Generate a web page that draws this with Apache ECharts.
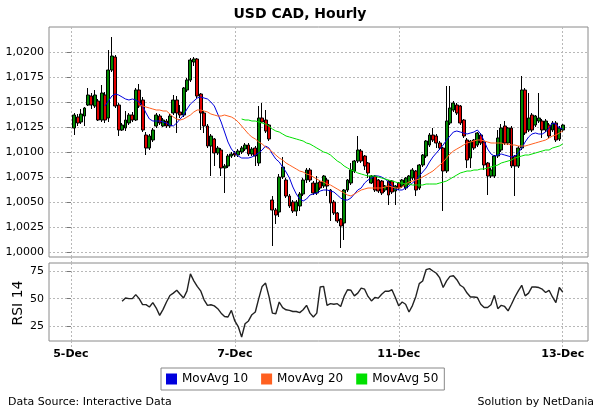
<!DOCTYPE html>
<html><head><meta charset="utf-8">
<script src="https://cdn.jsdelivr.net/npm/echarts@6/dist/echarts.min.js"></script>
<style>html,body{margin:0;padding:0;background:#fff}#c{width:600px;height:411px}</style>
</head><body><div id="c"></div>
<script>
// hourly bars, x = hours since 5-Dec 00:00 (trading hours only)
const firstBar = 1;
const opens = [
1.0124,1.0135,1.0130,1.0136,1.0147,1.0156,1.0146,1.0151,1.0132,1.0157,
1.0134,1.0182,1.0195,1.0147,1.0122,1.0124,1.0129,1.0137,1.0132,1.0162,
1.0152,1.0117,1.0104,1.0112,1.0126,1.0136,1.0126,1.0131,1.0126,1.0139,
1.0152,1.0140,1.0137,1.0162,1.0172,1.0190,1.0193,1.0158,1.0139,1.0126,
1.0106,1.0113,1.0099,1.0102,1.0084,1.0086,1.0096,1.0099,1.0097,1.0100,
1.0103,1.0107,1.0098,1.0104,1.0089,1.0134,1.0132,1.0127,1.0052,1.0042,
1.0040,1.0075,1.0072,1.0056,1.0050,1.0041,1.0046,1.0058,1.0072,1.0082,
1.0069,1.0059,1.0070,1.0066,1.0072,1.0062,1.0050,1.0039,1.0033,1.0029,
1.0062,1.0069,1.0081,1.0091,1.0101,1.0096,1.0089,1.0069,1.0076,1.0072,
1.0071,1.0062,1.0071,1.0071,1.0061,1.0069,1.0066,1.0064,1.0069,1.0074,
1.0081,1.0064,1.0087,1.0096,1.0107,1.0117,1.0116,1.0109,1.0104,1.0081,
1.0129,1.0142,1.0147,1.0146,1.0132,1.0112,1.0094,1.0112,1.0107,1.0117,
1.0110,1.0089,1.0076,1.0076,1.0096,1.0102,1.0126,1.0109,1.0124,1.0096,
1.0086,1.0104,1.0162,1.0122,1.0137,1.0127,1.0131,1.0131,1.0122,1.0127,
1.0122,1.0129,1.0113,1.0122];
const closes = [
1.0137,1.0129,1.0138,1.0144,1.0157,1.0147,1.0157,1.0132,1.0159,1.0132,
1.0182,1.0196,1.0146,1.0122,1.0127,1.0132,1.0137,1.0132,1.0162,1.0146,
1.0122,1.0104,1.0116,1.0122,1.0137,1.0129,1.0132,1.0126,1.0136,1.0152,
1.0139,1.0137,1.0164,1.0172,1.0192,1.0193,1.0156,1.0139,1.0126,1.0106,
1.0116,1.0099,1.0104,1.0084,1.0086,1.0096,1.0098,1.0097,1.0101,1.0104,
1.0107,1.0098,1.0103,1.0096,1.0134,1.0130,1.0121,1.0113,1.0042,1.0037,
1.0075,1.0085,1.0056,1.0046,1.0041,1.0050,1.0058,1.0072,1.0082,1.0072,
1.0059,1.0069,1.0064,1.0076,1.0066,1.0049,1.0039,1.0031,1.0026,1.0062,
1.0072,1.0082,1.0091,1.0102,1.0091,1.0086,1.0079,1.0076,1.0062,1.0061,
1.0059,1.0066,1.0057,1.0060,1.0066,1.0064,1.0072,1.0074,1.0076,1.0082,
1.0062,1.0087,1.0097,1.0111,1.0117,1.0112,1.0109,1.0104,1.0081,1.0131,
1.0144,1.0149,1.0139,1.0129,1.0116,1.0092,1.0111,1.0104,1.0119,1.0109,
1.0087,1.0076,1.0082,1.0096,1.0114,1.0124,1.0109,1.0124,1.0086,1.0086,
1.0104,1.0162,1.0119,1.0134,1.0122,1.0136,1.0134,1.0122,1.0131,1.0116,
1.0129,1.0112,1.0124,1.0127];
const lows = [
1.0117,1.0126,1.0128,1.0126,1.0146,1.0143,1.0144,1.0131,1.0130,1.0129,
1.0130,1.0180,1.0144,1.0116,1.0121,1.0121,1.0127,1.0130,1.0131,1.0144,
1.0120,1.0097,1.0102,1.0110,1.0124,1.0127,1.0125,1.0124,1.0124,1.0137,
1.0119,1.0134,1.0135,1.0160,1.0170,1.0186,1.0154,1.0122,1.0119,1.0104,
1.0076,1.0086,1.0097,1.0076,1.0059,1.0084,1.0094,1.0095,1.0095,1.0098,
1.0101,1.0096,1.0096,1.0086,1.0086,1.0129,1.0119,1.0111,1.0006,1.0028,
1.0035,1.0073,1.0054,1.0044,1.0039,1.0036,1.0041,1.0056,1.0069,1.0070,
1.0057,1.0057,1.0062,1.0064,1.0056,1.0031,1.0037,1.0029,1.0004,1.0012,
1.0060,1.0067,1.0079,1.0089,1.0089,1.0082,1.0074,1.0068,1.0060,1.0059,
1.0057,1.0060,1.0047,1.0058,1.0047,1.0062,1.0064,1.0062,1.0067,1.0072,
1.0056,1.0062,1.0085,1.0094,1.0105,1.0110,1.0104,1.0102,1.0041,1.0079,
1.0127,1.0140,1.0137,1.0127,1.0114,1.0084,1.0084,1.0102,1.0105,1.0107,
1.0082,1.0057,1.0074,1.0074,1.0094,1.0100,1.0107,1.0107,1.0084,1.0056,
1.0084,1.0102,1.0117,1.0120,1.0120,1.0125,1.0129,1.0114,1.0120,1.0114,
1.0120,1.0110,1.0111,1.0120];
const highs = [
1.0139,1.0138,1.0143,1.0145,1.0164,1.0159,1.0162,1.0153,1.0167,1.0160,
1.0202,1.0215,1.0197,1.0149,1.0129,1.0141,1.0139,1.0140,1.0164,1.0168,
1.0155,1.0120,1.0118,1.0124,1.0139,1.0138,1.0134,1.0133,1.0138,1.0157,
1.0156,1.0147,1.0165,1.0174,1.0194,1.0195,1.0194,1.0159,1.0141,1.0128,
1.0118,1.0114,1.0106,1.0104,1.0088,1.0098,1.0100,1.0101,1.0103,1.0106,
1.0109,1.0109,1.0105,1.0106,1.0146,1.0149,1.0142,1.0128,1.0056,1.0044,
1.0078,1.0095,1.0074,1.0058,1.0052,1.0052,1.0060,1.0074,1.0084,1.0084,
1.0071,1.0076,1.0072,1.0077,1.0074,1.0063,1.0052,1.0040,1.0034,1.0063,
1.0073,1.0089,1.0092,1.0116,1.0103,1.0097,1.0090,1.0077,1.0077,1.0073,
1.0072,1.0067,1.0072,1.0072,1.0067,1.0070,1.0073,1.0075,1.0077,1.0084,
1.0082,1.0088,1.0098,1.0112,1.0119,1.0124,1.0118,1.0111,1.0105,1.0166,
1.0166,1.0151,1.0149,1.0147,1.0133,1.0114,1.0112,1.0113,1.0120,1.0119,
1.0111,1.0090,1.0084,1.0097,1.0122,1.0128,1.0131,1.0125,1.0126,1.0097,
1.0106,1.0176,1.0164,1.0159,1.0139,1.0137,1.0159,1.0133,1.0133,1.0129,
1.0131,1.0131,1.0126,1.0128];

const ma10Start = 10;
const ma10 = [
1.0146,1.0151,1.0156,1.0158,1.0157,1.0155,1.0153,1.0152,1.0153,1.0152,
1.0150,1.0146,1.0139,1.0133,1.0131,1.0131,1.0131,1.0130,1.0129,1.0127,
1.0126,1.0129,1.0133,1.0137,1.0143,1.0148,1.0151,1.0154,1.0155,1.0154,
1.0153,1.0150,1.0146,1.0138,1.0130,1.0120,1.0110,1.0103,1.0099,1.0096,
1.0094,1.0094,1.0094,1.0095,1.0097,1.0099,1.0102,1.0106,1.0104,1.0098,
1.0093,1.0090,1.0085,1.0080,1.0074,1.0065,1.0058,1.0053,1.0051,1.0053,
1.0057,1.0058,1.0059,1.0061,1.0062,1.0062,1.0061,1.0060,1.0057,1.0054,
1.0052,1.0052,1.0054,1.0058,1.0062,1.0064,1.0069,1.0072,1.0074,1.0076,
1.0076,1.0075,1.0073,1.0070,1.0066,1.0063,1.0062,1.0062,1.0064,1.0066,
1.0069,1.0072,1.0076,1.0080,1.0084,1.0090,1.0095,1.0099,1.0103,1.0107,
1.0112,1.0116,1.0120,1.0121,1.0120,1.0119,1.0118,1.0119,1.0120,1.0122,
1.0118,1.0111,1.0103,1.0098,1.0096,1.0097,1.0098,1.0097,1.0096,1.0095,
1.0096,1.0099,1.0104,1.0110,1.0115,1.0118,1.0119,1.0118,1.0118,1.0120,
1.0124,1.0129,1.0128,1.0124,1.0123];
const ma20Start = 20;
const ma20 = [
1.0147,1.0146,1.0145,1.0144,1.0143,1.0142,1.0142,1.0141,1.0141,1.0138,
1.0135,1.0133,1.0132,1.0133,1.0135,1.0137,1.0140,1.0142,1.0142,1.0141,
1.0140,1.0138,1.0137,1.0136,1.0136,1.0137,1.0136,1.0135,1.0133,1.0130,
1.0126,1.0122,1.0118,1.0115,1.0113,1.0110,1.0108,1.0105,1.0103,1.0100,
1.0097,1.0094,1.0092,1.0089,1.0087,1.0085,1.0083,1.0081,1.0080,1.0078,
1.0077,1.0075,1.0073,1.0071,1.0070,1.0068,1.0067,1.0065,1.0063,1.0061,
1.0059,1.0057,1.0056,1.0058,1.0060,1.0062,1.0063,1.0064,1.0064,1.0064,
1.0064,1.0064,1.0065,1.0066,1.0065,1.0064,1.0064,1.0065,1.0068,1.0070,
1.0071,1.0072,1.0073,1.0075,1.0077,1.0079,1.0081,1.0084,1.0087,1.0090,
1.0094,1.0098,1.0101,1.0103,1.0105,1.0107,1.0109,1.0110,1.0111,1.0112,
1.0112,1.0111,1.0110,1.0109,1.0109,1.0109,1.0109,1.0108,1.0108,1.0107,
1.0107,1.0106,1.0106,1.0106,1.0107,1.0108,1.0109,1.0110,1.0111,1.0112,
1.0114,1.0116,1.0117,1.0119,1.0121];
const ma50Start = 50;
const ma50 = [
1.0133,1.0132,1.0132,1.0131,1.0131,1.0130,1.0129,1.0128,1.0126,1.0123,
1.0121,1.0120,1.0118,1.0116,1.0115,1.0114,1.0113,1.0112,1.0111,1.0109,
1.0108,1.0106,1.0104,1.0102,1.0100,1.0099,1.0097,1.0094,1.0091,1.0089,
1.0086,1.0084,1.0082,1.0081,1.0079,1.0078,1.0077,1.0076,1.0076,1.0076,
1.0075,1.0074,1.0073,1.0072,1.0071,1.0070,1.0069,1.0069,1.0068,1.0068,
1.0067,1.0067,1.0067,1.0067,1.0068,1.0068,1.0068,1.0068,1.0069,1.0070,
1.0071,1.0073,1.0075,1.0077,1.0079,1.0080,1.0081,1.0081,1.0082,1.0082,
1.0083,1.0083,1.0084,1.0085,1.0086,1.0087,1.0089,1.0090,1.0091,1.0092,
1.0094,1.0095,1.0096,1.0097,1.0097,1.0098,1.0099,1.0100,1.0101,1.0102,
1.0102,1.0104,1.0105,1.0106,1.0108];
const rsiStart = 15;
const rsi14 = [
47.6,50.6,50,50,53.6,50,44.6,44.6,42.5,46.4,
41.6,35,40.4,47,52.8,55,57.5,54,50.6,57,
72.2,66,61,57,49,44,44.5,43.5,41,37,
34,33.5,39.5,30,25,15.5,27.5,30,35.6,38,
50,61,64,52,37,36.5,47,42,40,39.5,
38.5,38.5,37.5,40,44,37,33.5,37,60.5,61,
44,45.5,45,45.5,43,52,58,57.5,52.5,55,
59.4,58.5,52,48,51,50.5,54,56.6,56.6,58,
51,43.5,47,45,38,43.8,52,63.5,65.8,76,
77,74.8,72.8,68.6,60,66,70,70.5,67,62,
60,55,51.5,51.5,51,45,42,42,44.5,53,
41,44,43,39,45,51.5,57,62,52.5,55,
60.5,60.5,60,58.5,55.5,57.5,51.5,46.5,60,56];

const xTickValues = [0, 48, 96, 144];
const xTickLabels = ['5-Dec', '7-Dec', '11-Dec', '13-Dec'];
const priceTicks = [1.0000,1.0025,1.0050,1.0075,1.0100,1.0125,1.0150,1.0175,1.0200];
const rsiTicks = [25, 50, 75];
const seriesNames = ['MovAvg 10', 'MovAvg 20', 'MovAvg 50'];

const candleData = opens.map((o, i) => [firstBar + i, o, closes[i], lows[i], highs[i]]);
const toLine = (arr, start) => arr.map((v, i) => [start + i, v]);

const FONT = 'DejaVu Sans';
const grid = '#b8b8b8';
const dash = {color: grid, type: [2, 2], width: 1};

const chart = echarts.init(document.getElementById('c'), null, {renderer: 'canvas'});
chart.setOption({
  animation: false,
  backgroundColor: '#fff',
  title: {
    text: 'USD CAD, Hourly', left: 'center', top: 7, padding: 0,
    textStyle: {fontFamily: FONT, fontWeight: 'bold', fontSize: 14, color: '#000'}
  },
  legend: {
    data: seriesNames, left: 161, top: 368, icon: 'rect',
    itemWidth: 11, itemHeight: 11, itemGap: 13,
    padding: [5, 6, 5, 5], borderColor: '#888', borderWidth: 1,
    textStyle: {fontFamily: FONT, fontSize: 12, color: '#000'}
  },
  grid: [
    {left: 49, top: 27, width: 539, height: 230, show: true, borderColor: '#8a8a8a', borderWidth: 1, backgroundColor: '#fff', outerBoundsMode: 'none'},
    {left: 49, top: 263, width: 539, height: 78, show: true, borderColor: '#8a8a8a', borderWidth: 1, backgroundColor: '#fff', outerBoundsMode: 'none'}
  ],
  xAxis: [
    {type: 'value', gridIndex: 0, min: -6.4, max: 151.4,
     axisLine: {show: false},
     axisTick: {show: true, length: 6, customValues: xTickValues, lineStyle: dash},
     axisLabel: {show: false, customValues: xTickValues},
     splitLine: {show: true, lineStyle: dash}},
    {type: 'value', gridIndex: 1, min: -6.4, max: 151.4,
     axisLine: {show: false},
     axisTick: {show: true, length: 6, customValues: xTickValues, lineStyle: dash},
     axisLabel: {show: true, customValues: xTickValues, margin: 8,
       formatter: v => xTickLabels[xTickValues.indexOf(v)],
       fontFamily: FONT, fontWeight: 'bold', fontSize: 11, color: '#000'},
     splitLine: {show: true, lineStyle: dash}}
  ],
  yAxis: [
    {type: 'value', gridIndex: 0, min: 0.9995, max: 1.0225, scale: true,
     axisLine: {show: false},
     axisTick: {show: true, length: 4, customValues: priceTicks, lineStyle: {color: '#777'}},
     axisLabel: {customValues: priceTicks, margin: 5, formatter: v => v.toFixed(4).replace('.', ','),
       fontFamily: FONT, fontSize: 11, color: '#000'},
     splitLine: {show: true, lineStyle: dash}},
    {type: 'value', gridIndex: 1, min: 12, max: 82,
     axisLine: {show: false},
     axisTick: {show: true, length: 4, customValues: rsiTicks, lineStyle: {color: '#777'}},
     axisLabel: {customValues: rsiTicks, margin: 5,
       fontFamily: FONT, fontSize: 11, color: '#000'},
     splitLine: {show: true, lineStyle: dash}}
  ],
  graphic: [
    {type: 'text', x: 18, y: 303, rotation: Math.PI / 2,
     style: {text: 'RSI 14', align: 'center', verticalAlign: 'middle', font: '14px "DejaVu Sans"', fill: '#000'}},
    {type: 'text', x: 8, y: 402,
     style: {text: 'Data Source: Interactive Data', align: 'left', verticalAlign: 'middle', font: '11px "DejaVu Sans"', fill: '#000'}},
    {type: 'text', x: 594, y: 402,
     style: {text: 'Solution by NetDania', align: 'right', verticalAlign: 'middle', font: '11px "DejaVu Sans"', fill: '#000'}}
  ],
  series: [
    {type: 'candlestick', name: 'USDCAD', xAxisIndex: 0, yAxisIndex: 0,
     data: candleData, encode: {x: 0, y: [1, 2, 3, 4]}, barWidth: 3.4,
     itemStyle: {color: '#008a00', color0: '#e00000', borderColor: '#000', borderColor0: '#000', borderColorDoji: '#000', borderWidth: 1}},
    {type: 'line', name: seriesNames[0], xAxisIndex: 0, yAxisIndex: 0, data: toLine(ma10, ma10Start),
     showSymbol: false, color: '#0000dd', lineStyle: {width: 1, color: '#0000dd'}, itemStyle: {color: '#0000dd'}},
    {type: 'line', name: seriesNames[1], xAxisIndex: 0, yAxisIndex: 0, data: toLine(ma20, ma20Start),
     showSymbol: false, color: '#ff6020', lineStyle: {width: 1, color: '#ff6020'}, itemStyle: {color: '#ff6020'}},
    {type: 'line', name: seriesNames[2], xAxisIndex: 0, yAxisIndex: 0, data: toLine(ma50, ma50Start),
     showSymbol: false, color: '#00e000', lineStyle: {width: 1, color: '#00e000'}, itemStyle: {color: '#00e000'}},
    {type: 'line', name: 'RSI 14', xAxisIndex: 1, yAxisIndex: 1, data: toLine(rsi14, rsiStart),
     showSymbol: false, color: '#222', lineStyle: {width: 1.4, color: '#222'}}
  ]
});
</script></body></html>
